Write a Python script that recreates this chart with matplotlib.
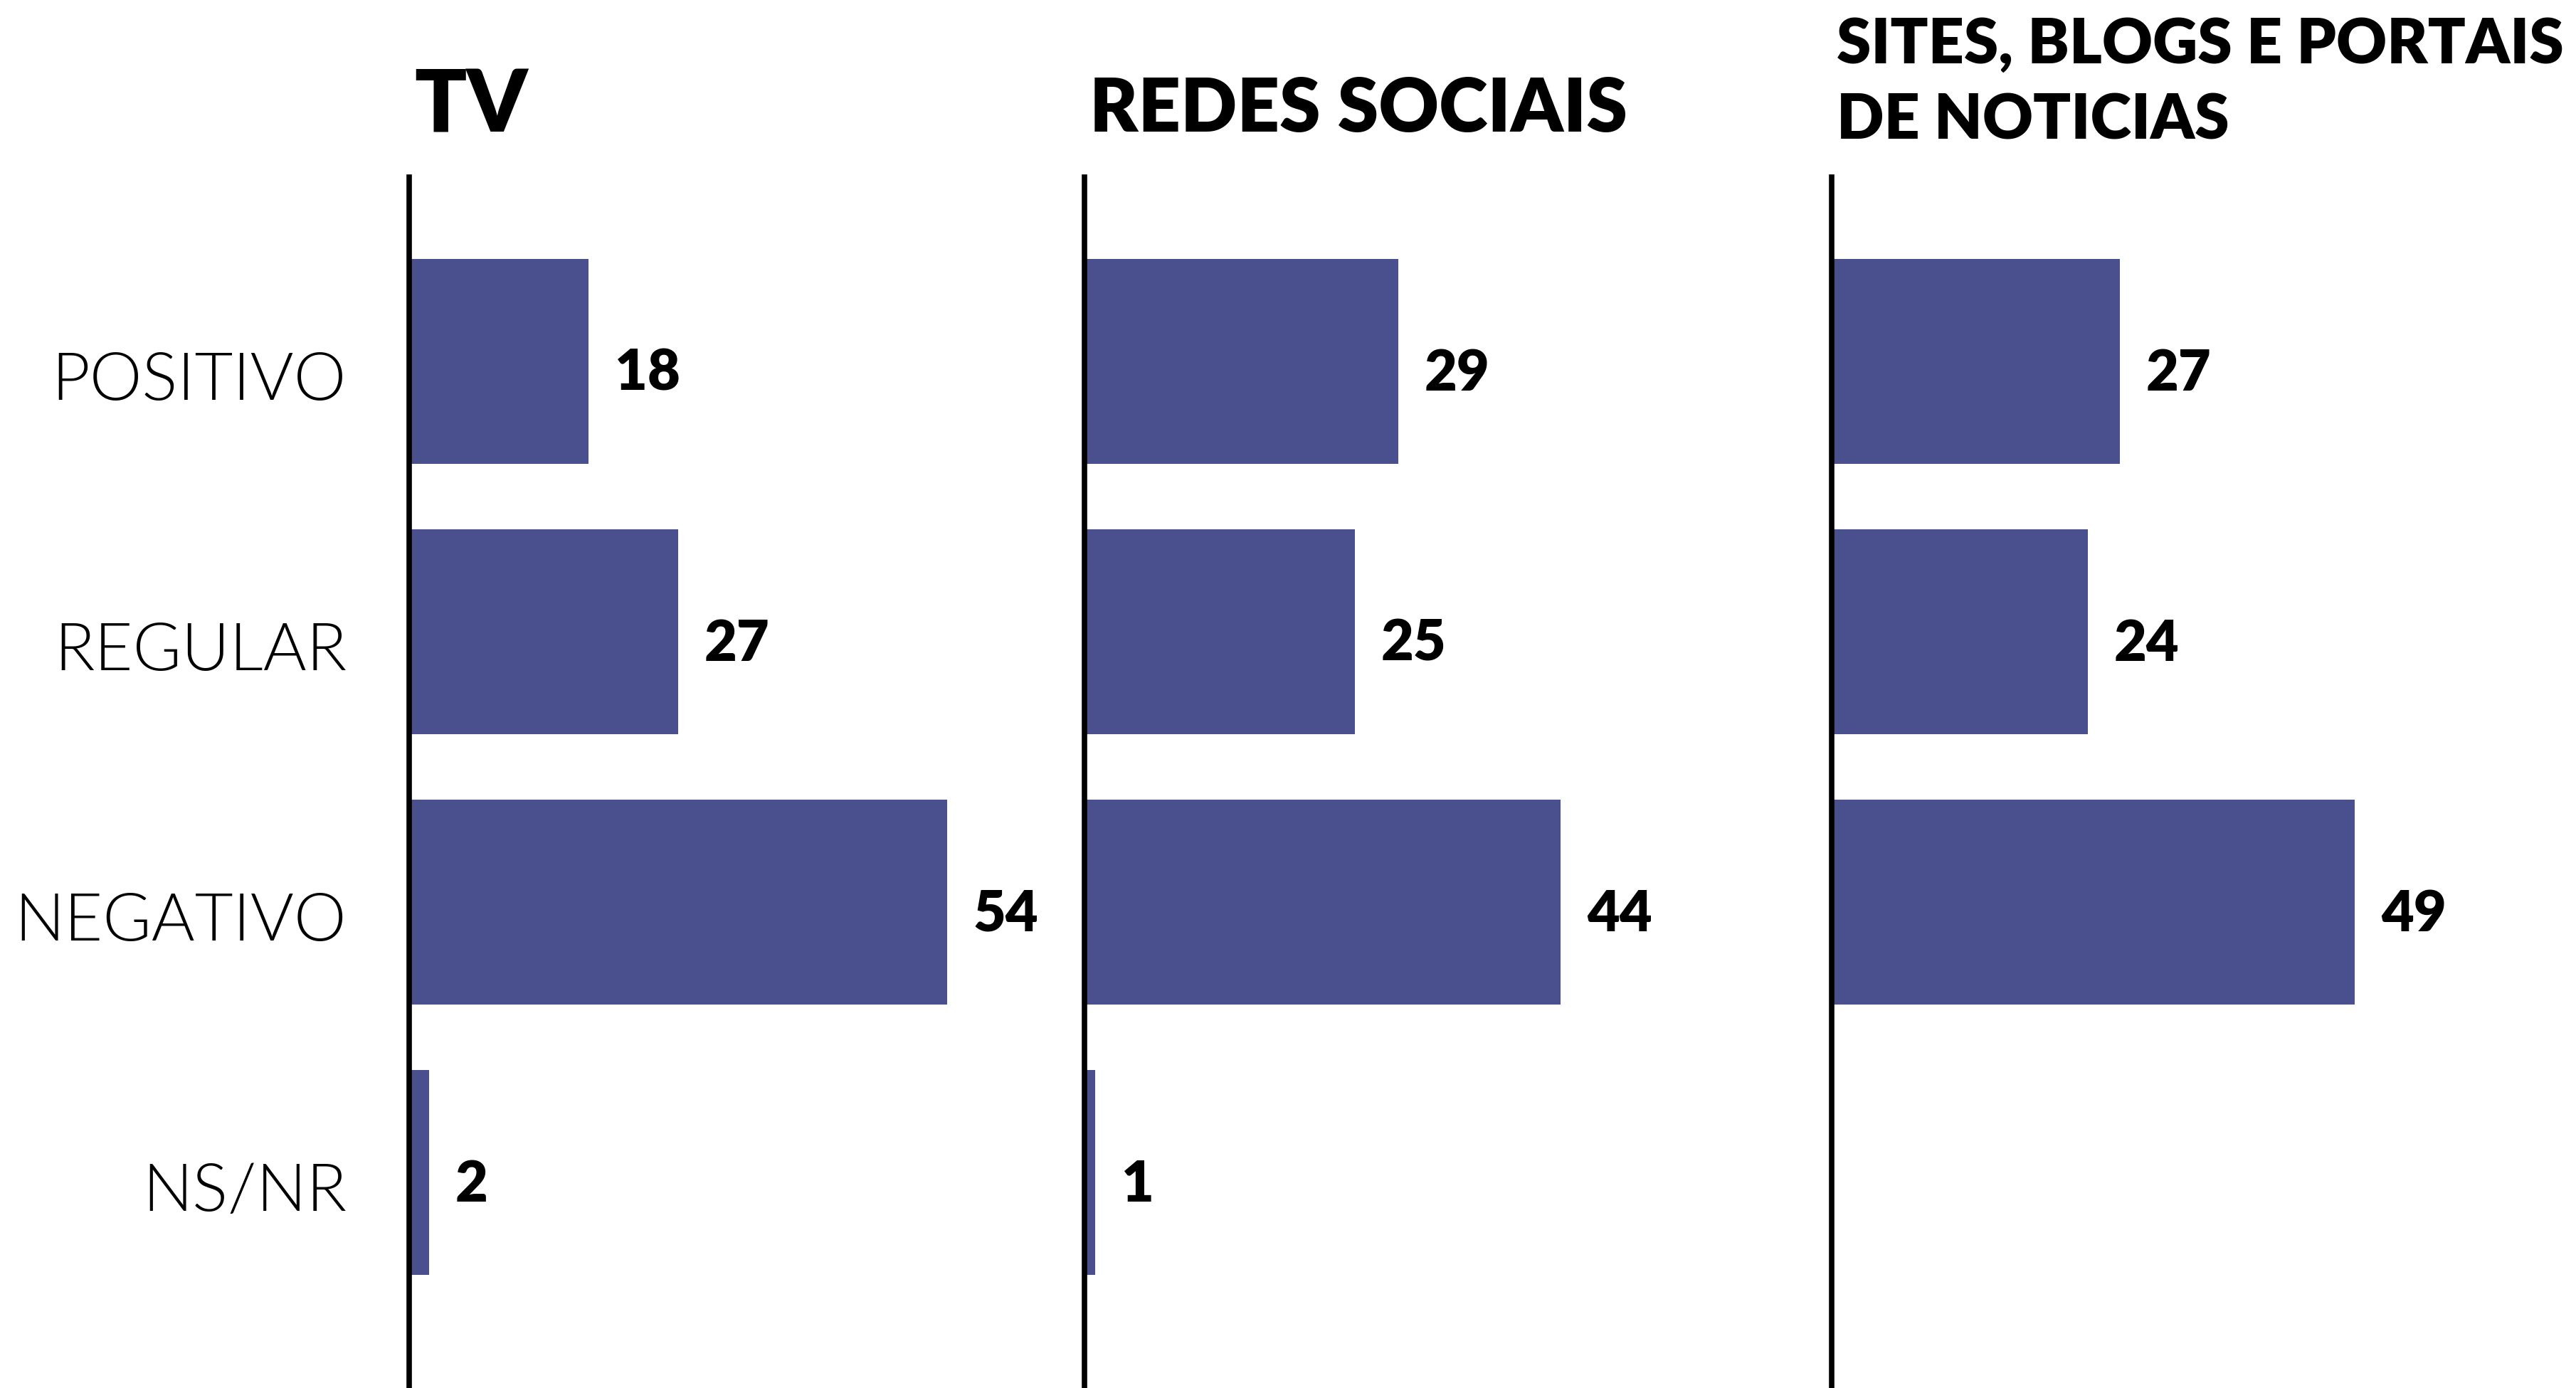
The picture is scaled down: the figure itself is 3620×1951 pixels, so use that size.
import matplotlib.pyplot as plt

categorias = ["POSITIVO", "REGULAR", "NEGATIVO", "NS/NR"]
titulos = ["TV", "REDES SOCIAIS", "SITES, BLOGS E PORTAIS\nDE NOTICIAS"]
tv = [18, 27, 54, 2]
redes = [29, 25, 44, 1]
sites = [27, 24, 49, None]
series = [tv, redes, sites]

cor = "#4A4F8E"
W, H = 3620, 1951
fam = ["Lato", "DejaVu Sans"]

fig = plt.figure(figsize=(W / 100, H / 100), dpi=100)

lefts = [575, 1524, 2574]
escalas = [14.0, 15.2, 15.0]   # px por unidade em cada painel
top, bottom = 249, 1951
axw = 900
y0, step = 508, 380

for k, (x0, dados, px_unit) in enumerate(zip(lefts, series, escalas)):
    ax = fig.add_axes([x0 / W, 0, axw / W, (bottom - top) / H])
    ys = list(range(len(categorias)))
    for y, v in zip(ys, dados):
        if v is None:
            continue
        ax.barh(y, v, height=0.76, color=cor, left=0)
        ax.text(v + 37 / px_unit, y + 0.045, str(v), va="center", ha="left",
                fontsize=57, fontweight="heavy", family=fam)
    ax.set_xlim(0, axw / px_unit)
    ax.set_ylim((bottom - y0) / step, (top - y0) / step)
    for s in ["top", "right", "bottom"]:
        ax.spines[s].set_visible(False)
    ax.spines["left"].set_linewidth(5.5)
    ax.set_xticks([])
    ax.set_yticks([])
    if k == 0:
        for y, c in zip(ys, categorias):
            ax.text(-88 / px_unit, y + 0.075, c, ha="right", va="center",
                    fontsize=67, fontweight=300, family=fam, clip_on=False)
    ax.patch.set_alpha(0)

# titulos
fig.text(582 / W, 1 - 185 / H, titulos[0], fontsize=87, fontweight="heavy",
         family=fam, va="baseline")
fig.text(1531 / W, 1 - 185 / H, titulos[1], fontsize=75, fontweight="heavy",
         family=fam, va="baseline")
fig.text(2581 / W, 1 - 89 / H, titulos[2].split("\n")[0], fontsize=63,
         fontweight="heavy", family=fam, va="baseline")
fig.text(2581 / W, 1 - 195 / H, titulos[2].split("\n")[1], fontsize=63,
         fontweight="heavy", family=fam, va="baseline")

fig.savefig("out.png", dpi=100, facecolor="white")
